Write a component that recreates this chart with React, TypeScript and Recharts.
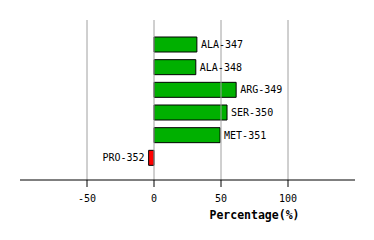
import React from "react";
import { BarChart, Bar, XAxis, YAxis, Cell, LabelList, ReferenceLine } from "recharts";

const residues = ["ALA-347", "ALA-348", "ARG-349", "SER-350", "MET-351", "PRO-352"];
const percentages = [32, 31.2, 61.3, 54.5, 49.3, -4];
const xTicks = [-50, 0, 50, 100];

const data = residues.map((name, i) => ({ name, value: percentages[i] }));

const FONT = "'DejaVu Sans Mono', monospace";

const renderLabel = (props: any) => {
  const { x, y, width, height, value, index } = props;
  const v = percentages[index];
  const left = Math.min(x, x + width);
  const right = Math.max(x, x + width);
  const cy = y + height / 2;
  if (v >= 0) {
    return (
      <text x={right + 4} y={cy} dy="0.35em" textAnchor="start" fontFamily={FONT} fontSize={10} fill="#000">
        {value}
      </text>
    );
  }
  return (
    <text x={left - 4} y={cy} dy="0.35em" textAnchor="end" fontFamily={FONT} fontSize={10} fill="#000">
      {value}
    </text>
  );
};

export default function App() {
  return (
    <div style={{ position: "absolute", left: 0, top: 0, width: 374, height: 240, background: "#fff" }}>
      <BarChart
        width={374}
        height={240}
        data={data}
        layout="vertical"
        margin={{ top: 20, right: 19, bottom: 0, left: 20 }}
        barCategoryGap={0}
      >
        <XAxis
          type="number"
          domain={[-100, 150]}
          ticks={xTicks}
          allowDataOverflow
          height={60}
          axisLine={{ stroke: "#000", strokeWidth: 1 }}
          tickLine={{ stroke: "#000", strokeWidth: 1 }}
          tickSize={7}
          tick={{ fontFamily: FONT, fontSize: 10, fill: "#000", dy: 6 }}
          label={{
            value: "Percentage(%)",
            position: "insideBottom",
            dx: 67,
            dy: -16,
            style: { fontFamily: FONT, fontSize: 11.5, fontWeight: "bold", fill: "#000" },
          }}
        />
        <YAxis type="category" dataKey="name" hide padding={{ top: 13, bottom: 11 }} />
        {xTicks.map((t) => (
          <ReferenceLine key={t} x={t} stroke="#a0a0a0" strokeWidth={1} />
        ))}
        <Bar dataKey="value" barSize={15} stroke="#000" strokeWidth={1} isAnimationActive={false}>
          {data.map((d, i) => (
            <Cell key={i} fill={d.value >= 0 ? "#00b000" : "#ff0000"} />
          ))}
          <LabelList dataKey="name" content={renderLabel} />
        </Bar>
      </BarChart>
    </div>
  );
}
